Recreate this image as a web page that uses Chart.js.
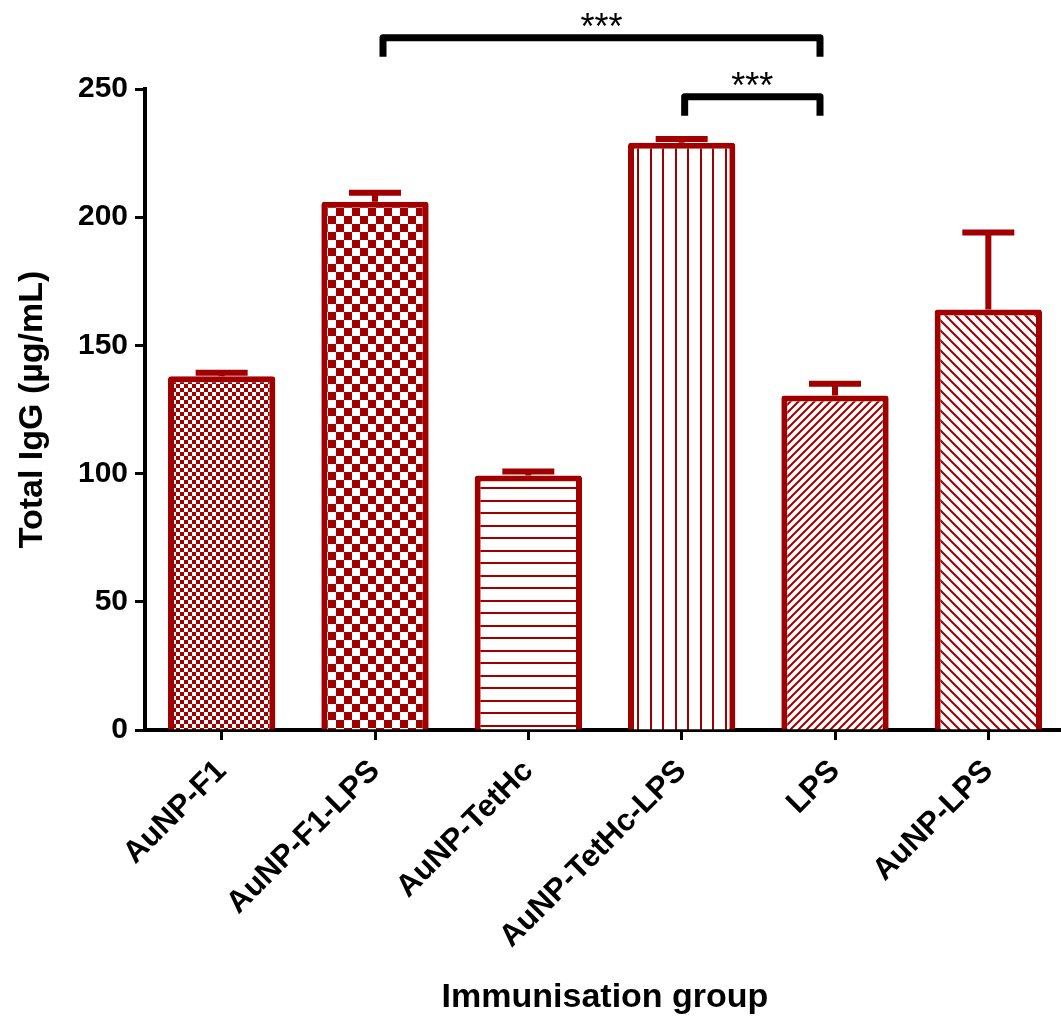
<!DOCTYPE html>
<html>
<head>
<meta charset="utf-8">
<title>Total IgG by immunisation group</title>
<script src="https://cdn.jsdelivr.net/npm/chart.js"></script>
<style>
  html, body { margin: 0; padding: 0; background: #fff; overflow: hidden; }
  #wrap { width: 1061px; height: 1023px; overflow: hidden; }
  canvas { display: block; }
</style>
</head>
<body>
<div id="wrap"><canvas id="igg" width="1065" height="1023"></canvas></div>
<script>
// groups along the x axis
var groups = ['AuNP-F1', 'AuNP-F1-LPS', 'AuNP-TetHc', 'AuNP-TetHc-LPS', 'LPS', 'AuNP-LPS'];
// mean total IgG (ug/mL)
var meanIgG = [138, 206, 99.3, 229, 130.5, 164];
// upper error bars
var errIgG = [1.3, 3.5, 1.5, 1.5, 4.5, 30];
// y axis ticks
var yTicks = [0, 50, 100, 150, 200, 250];
// significance brackets: group index from / to, height in y units, label
var sigFrom = [1, 3];
var sigTo = [4, 4];
var sigLevel = [270, 247];
var sigText = ['***', '***'];

var RED = '#a00000';
var FONT = "'Liberation Sans', Arial, sans-serif";

/**
 * Builds a repeating fill for one bar.
 * @param {string} kind one of checkFine, checkBig, hLines, vLines, slash, backslash
 */
function makePattern(kind) {
    var c = document.createElement('canvas');
    var g = c.getContext('2d');
    var s;
    if (kind == 'checkFine' || kind == 'checkBig') {
        var cell = kind == 'checkFine' ? 4 : 8;
        c.width = c.height = cell * 2;
        g.fillStyle = '#fff';
        g.fillRect(0, 0, cell * 2, cell * 2);
        g.fillStyle = RED;
        g.fillRect(0, 0, cell, cell);
        g.fillRect(cell, cell, cell, cell);
    } else if (kind == 'hLines' || kind == 'vLines') {
        c.width = c.height = 25;
        g.fillStyle = '#fff';
        g.fillRect(0, 0, 25, 25);
        g.fillStyle = RED;
        if (kind == 'hLines') {
            g.fillRect(0, 0, 25, 2);
            g.fillRect(0, 12, 25, 2);
        } else {
            g.fillRect(0, 0, 2, 25);
            g.fillRect(12, 0, 2, 25);
        }
    } else {
        s = kind == 'slash' ? 8 : 10;
        c.width = c.height = s;
        g.fillStyle = '#fff';
        g.fillRect(0, 0, s, s);
        g.strokeStyle = RED;
        g.lineWidth = 2;
        g.beginPath();
        if (kind == 'slash') {
            g.moveTo(-1, 1); g.lineTo(1, -1);
            g.moveTo(0, s); g.lineTo(s, 0);
            g.moveTo(s - 1, s + 1); g.lineTo(s + 1, s - 1);
        } else {
            g.moveTo(-1, s - 1); g.lineTo(1, s + 1);
            g.moveTo(0, 0); g.lineTo(s, s);
            g.moveTo(s - 1, -1); g.lineTo(s + 1, 1);
        }
        g.stroke();
    }
    return g.createPattern(c, 'repeat');
}

var fills = ['checkFine', 'checkBig', 'hLines', 'vLines', 'slash', 'backslash'].map(makePattern);

// error bars, drawn on top of the bars (upper half only)
var errorBars = {
    id: 'errorBars',
    afterDatasetsDraw: function(chart) {
        var ctx = chart.ctx;
        var y = chart.scales.y;
        var bars = chart.getDatasetMeta(0).data;
        ctx.save();
        ctx.strokeStyle = RED;
        ctx.lineWidth = 6;
        bars.forEach(function(bar, i) {
            var top = y.getPixelForValue(meanIgG[i] + errIgG[i]);
            ctx.beginPath();
            ctx.moveTo(bar.x, bar.y);
            ctx.lineTo(bar.x, top);
            ctx.moveTo(bar.x - 26, top);
            ctx.lineTo(bar.x + 26, top);
            ctx.stroke();
        });
        ctx.restore();
    }
};

// significance brackets with *** above them
var brackets = {
    id: 'brackets',
    afterDraw: function(chart) {
        var ctx = chart.ctx;
        var x = chart.scales.x;
        var y = chart.scales.y;
        // legs sit a little inside the bar centres
        var insetLeft = [8, 3];
        ctx.save();
        ctx.strokeStyle = '#000';
        ctx.fillStyle = '#000';
        ctx.lineWidth = 7;
        ctx.lineJoin = 'round';
        ctx.font = '36px ' + FONT;
        ctx.textAlign = 'center';
        ctx.textBaseline = 'alphabetic';
        for (var i = 0; i < sigFrom.length; i++) {
            var x1 = x.getPixelForValue(sigFrom[i]) + insetLeft[i];
            var x2 = x.getPixelForValue(sigTo[i]) - 15;
            var yl = y.getPixelForValue(sigLevel[i]);
            ctx.beginPath();
            ctx.moveTo(x1, yl + 19);
            ctx.lineTo(x1, yl);
            ctx.lineTo(x2, yl);
            ctx.lineTo(x2, yl + 19);
            ctx.stroke();
            ctx.fillText(sigText[i], (x1 + x2) / 2, yl + 1);
        }
        ctx.restore();
    }
};

Chart.defaults.font.family = FONT;
Chart.defaults.color = '#000';

var ctx = document.getElementById('igg').getContext('2d');
var chart = new Chart(ctx, {
    type: 'bar',
    data: {
        labels: groups,
        datasets: [{
            data: meanIgG,
            backgroundColor: fills,
            borderColor: RED,
            borderWidth: 6,
            borderRadius: 3,
            borderSkipped: 'start',
            categoryPercentage: 1,
            barPercentage: 0.70
        }]
    },
    options: {
        responsive: false,
        animation: false,
        devicePixelRatio: 1,
        layout: { padding: { top: 89, right: 0, left: 0, bottom: 0 } },
        plugins: {
            legend: { display: false },
            tooltip: { enabled: false }
        },
        scales: {
            x: {
                offset: true,
                grid: {
                    offset: false,
                    drawOnChartArea: false,
                    drawTicks: true,
                    tickLength: 10,
                    tickWidth: 3,
                    tickColor: '#000'
                },
                border: { display: true, width: 4, color: '#000' },
                ticks: {
                    minRotation: 45,
                    maxRotation: 45,
                    padding: 13,
                    color: '#000',
                    font: { size: 31, weight: 'bold' }
                },
                title: {
                    display: true,
                    text: 'Immunisation group',
                    color: '#000',
                    font: { size: 34, weight: 'bold' },
                    padding: { top: 0, bottom: 5 }
                },
                afterFit: function(scale) { scale.height = 293; }
            },
            y: {
                min: 0,
                max: 250,
                grid: {
                    drawOnChartArea: false,
                    drawTicks: true,
                    tickLength: 10,
                    tickWidth: 3,
                    tickColor: '#000'
                },
                border: { display: true, width: 4, color: '#000' },
                afterBuildTicks: function(scale) {
                    scale.ticks = yTicks.map(function(v) { return { value: v }; });
                },
                ticks: {
                    padding: 7,
                    color: '#000',
                    font: { size: 30, weight: 'bold' }
                },
                title: {
                    display: true,
                    text: 'Total IgG (µg/mL)',
                    color: '#000',
                    font: { size: 34, weight: 'bold' },
                    padding: { top: 12, bottom: 0 }
                },
                afterFit: function(scale) { scale.width = 145; }
            }
        }
    },
    plugins: [errorBars, brackets]
});
</script>
</body>
</html>
